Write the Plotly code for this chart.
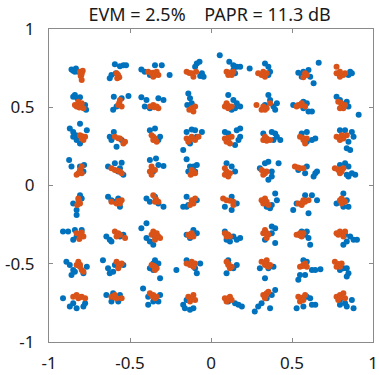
import plotly.graph_objects as go

# 64-QAM grid levels
X_LEVELS = [-0.817, -0.583, -0.350, -0.117, 0.117, 0.350, 0.583, 0.817]
Y_LEVELS = [0.727, 0.519, 0.311, 0.104, -0.104, -0.311, -0.519, -0.727]
OFFSET_UNIT = 0.0021  # offsets below are in units of 0.0021

TICK_VALS = [-1, -0.5, 0, 0.5, 1]
TICK_TEXT = ["-1", "-0.5", "0", "0.5", "1"]
TITLE = "EVM = 2.5%\u00a0\u00a0\u00a0\u00a0PAPR = 11.3 dB"

# received-symbol offsets per constellation point, row by row (top to bottom), left to right
BLUE = [
    # row 0
    "-21,7 -16,3 -8,10 -1,0 -11,0",
    "-5,23 10,17 20,20 28,20 -2,-5 -20,-20 -15,-10",
    "-38,7 2,20 22,20 45,-10 -13,-10 -28,0",
    "14,25 22,30 9,15 29,-5 34,-15 24,-13",
    "-30,50 -2,30 10,20 20,15 30,15 15,-5 10,5",
    "-53,10 -8,25 2,15 7,0 2,-10",
    "-21,-3 -6,0 9,5 39,27 24,-35 14,-15 -11,-15",
    "20,0 25,-5 15,-10",
    # row 1
    "-11,28 -4,18 4,21 -16,23 19,-2 22,-17",
    "-8,23 15,18 35,25 -10,-17 0,-7",
    "-38,21 -23,13 12,18 27,13 -28,-7 -13,-12",
    "-11,33 -6,18 -14,-2 -1,3",
    "-5,28 10,13 20,3 30,-7 5,-17 15,-12",
    "2,28 7,13 27,3 17,-7 -8,-2 22,-17",
    "-36,-2 -6,8 4,3 9,-22 19,-22 -6,-12",
    "-20,23 10,8 15,-7 45,-32 -10,13",
    # row 2
    "4,40 -26,25 -16,15 -8,5 24,20 -6,-10 4,-20 -16,0",
    "-8,15 -20,0 0,-30 15,-10 -15,-10",
    "-13,20 2,25 17,0 12,-10",
    "-16,15 -1,22 9,20 29,15 -26,-40 -6,-20 14,0",
    "-15,15 -5,10 20,20 30,25 25,-10 15,-25 30,0",
    "-13,10 12,15 22,10 27,0 37,-10 17,-10",
    "-11,10 4,15 19,-10 29,-5 4,-15",
    "-10,20 5,20 25,15 30,0 15,-15 10,-35 20,-40",
    # row 3
    "-28,28 -21,8 4,8 16,13 14,-7",
    "-25,8 -5,18 15,20 10,3 5,-7 20,-17",
    "-13,28 5,33 27,10 12,13 -3,-7",
    "-16,30 -6,8 14,13 9,-7 -11,-7 4,8",
    "-10,18 5,8 15,-7",
    "-23,3 -8,18 2,23 32,18 12,-7 12,-22 2,-32",
    "-21,-2 4,8 -1,-12 29,-12 34,-7 24,-22",
    "-10,13 5,18 15,8 25,-12 35,-17 10,-17 15,-22",
    # row 4
    "-16,-5 -6,-25 -6,-40 9,10 4,20",
    "-25,15 -15,5 5,10 10,-15 -5,0",
    "-23,10 -13,0 12,-5 27,-15 2,15",
    "-26,-15 -16,-15 -11,-10 -16,15 14,5",
    "5,15 20,-5 5,-25 -15,-15",
    "22,25 27,5 12,-10 -3,-15 7,-20",
    "-36,-25 -26,-5 -1,20 19,20 34,5 9,-35",
    "0,25 10,5 15,-15 0,-15 -20,-5",
    # row 5
    "-46,8 -31,8 -11,13 -6,-7 -16,-17 9,13",
    "-30,-7 -20,-17 -15,-22 10,-7 20,-2",
    "-38,18 -23,33 -23,-12 -13,-22 -3,-32 2,-7",
    "-16,-2 -6,-12 14,3 4,13",
    "-15,8 -10,-17 0,-22 20,-17 30,-12 10,-7",
    "12,23 22,18 -8,-17 22,-27 12,3",
    "-11,8 4,8 9,-12 14,-32 -1,-2",
    "5,-2 20,-7 30,-17 40,-17 0,-32 10,-22",
    # row 6
    "-36,15 -26,5 -16,-10 -21,-25 -11,-15 24,0 14,-20",
    "-40,20 -25,-5 -20,-20 -10,-15 -5,5 20,5",
    "-13,-5 -3,10 2,20 12,10 17,-35 -3,-10",
    "-46,-10 -16,20 9,-5 14,-20 24,10",
    "-5,20 20,5 -10,-20 10,-5",
    "-23,-5 -8,-35 2,-5 17,0 -3,10",
    "-6,20 4,15 19,-10 29,-10 44,-8 -1,-25 -21,-40 -16,-25",
    "-10,-10 10,-5 15,-20 10,-30 0,-5",
    # row 7
    "-46,3 -26,-22 -6,-27 -16,-12 19,-12 14,-22",
    "-30,13 -15,-7 -10,18 10,13 5,-7",
    "-33,33 -18,8 -18,-17 -3,-7 12,-7 17,13",
    "-26,-17 -21,-27 -6,-32 4,-27 -16,-2",
    "-5,-7 15,-12 25,-17 35,-22",
    "22,28 12,13 -3,3 7,-27 -28,-22 -38,-37 -18,-12",
    "4,8 14,3 -6,-22 -26,-27 29,-17 19,-17",
    "-10,-2 5,-12 25,-2 10,-22 30,-27 -10,-17",
]

ORANGE = [
    # row 0
    "4,0 12,3 9,-5 6,-13 9,-25 8,-10",
    "0,-5 5,-13 8,-17 2,-20 4,-9",
    "-18,0 -8,-5 2,-10 7,0 -3,-15 12,-10 -3,-3",
    "-16,0 -1,-5 4,-15 12,0 -8,-4",
    "-10,0 0,-5 5,-10 -5,-10 10,0 -3,-2",
    "-28,-5 -18,-10 -8,-15 -3,-5 -13,0 -13,-8",
    "-1,-5 -6,-17 4,-10",
    "-20,15 -20,-5 -10,-15 0,-10 5,-5 -10,0 -12,-8",
    # row 1
    "-1,8 4,-2 -6,-7 14,-12 9,3 -11,-2 2,-10",
    "10,13 5,-2 15,-7 8,5",
    "-13,-7 -3,-2 7,-7 12,-12 0,-9",
    "-1,-12 4,-22 -8,-17 9,-7",
    "-10,3 -5,-12 5,-7 -15,-7 -6,-4",
    "-33,-2 -13,-7 -3,-12 -8,-17 -18,-17 7,3 -10,-10",
    "-21,-2 -11,3 -1,-7 -26,-7 -14,-4",
    "-15,8 -5,-2 0,-12 5,-2 -10,-12 -6,4",
    # row 2
    "4,5 9,-5 14,-10 19,0 10,2",
    "-5,0 10,-5 25,-15 20,-20 5,-4",
    "-8,5 2,-5 7,-15 -3,-10 -3,0 3,-8",
    "-16,-5 -1,0 9,-10 19,0 -11,-15 2,-6",
    "-15,-5 -5,-10 0,-20 5,0 -10,-15 -5,-3",
    "-8,0 -3,-5 7,-10 -13,-10 -3,-12",
    "-16,0 -6,-10 -1,-20 4,-5 -6,-4",
    "-20,0 -10,-10 0,-5 10,5 -5,5 -12,-4",
    # row 3
    "9,8 4,-2 -1,-12 -6,-17 9,-12 4,-6",
    "-15,3 -5,-2 10,-7 15,-12 2,-5",
    "-8,8 -13,-7 -8,-17 2,-2 -6,0",
    "-1,-2 4,-7 -4,-17 9,-12 2,-12",
    "-15,3 -10,-7 0,-12 -5,-22 -15,-17 -8,-12",
    "-18,-2 -8,-12 -3,-7 -13,-17 -12,-7",
    "-31,8 -16,3 -6,3 -22,5",
    "-25,3 -15,-2 -5,-7 0,3 -10,-12 -10,0",
    # row 4
    "-1,10 2,0 -4,-10 4,-5 0,5",
    "-15,0 0,-5 15,5 10,-5 5,2",
    "-3,20 2,0 12,0 5,8",
    "-1,5 4,-5 9,10 -6,-10 2,2",
    "-20,10 -10,5 10,0 10,-10 0,3",
    "-18,5 -8,10 -3,0 2,-10 -13,-5 -8,2",
    "-21,-5 -11,-10 -1,0 9,5 -6,5 -8,-2",
    "-10,5 -5,-5 5,0 -5,10 0,3",
    # row 5
    "-6,3 4,-2 14,-7 2,-15 9,5 8,-6",
    "-5,8 5,3 10,-2 0,-7 25,-12 4,0",
    "-3,8 7,3 12,-7 2,-17 17,-12 -8,-2 4,-5",
    "-11,-2 -1,3 4,-7 -6,-7 -4,0",
    "-15,3 -5,-2 0,-7 -10,-7 -8,0",
    "-8,13 -13,3 2,-2 -3,-12 -4,4",
    "-26,-2 -16,3 -11,-7 -6,3 -16,-4",
    "-20,3 -10,8 5,8 0,-7 -15,-2 -6,2",
    # row 6
    "-1,15 4,0 9,-10 14,-15 -6,5 4,6",
    "0,15 10,5 15,10 5,-5 6,8",
    "-8,5 2,0 7,-5 2,-10 -2,3",
    "-16,10 -6,5 4,0 -1,15 9,10 2,8",
    "-10,15 -5,5 0,-5 5,0 -4,8",
    "-18,15 -8,5 2,0 -3,20 7,5 -6,10",
    "-16,0 -6,5 4,0 -1,10 -8,2",
    "-25,15 -15,5 -5,10 -20,0 -10,0 -14,8",
    # row 7
    "-16,8 -1,3 9,8 19,3 -6,13 4,6",
    "-15,8 0,3 -5,13 15,3 -6,6",
    "-13,18 -3,13 7,8 2,3 -6,10",
    "-11,8 -1,3 4,13 -6,-7 9,-2 -3,2",
    "-15,3 0,8 5,-2 -10,-7 -6,2",
    "-13,13 -8,3 -3,18 2,23 -6,10",
    "-21,8 -11,3 -6,-2 -16,-7 -1,13 -10,5",
    "-20,8 -10,13 0,18 -15,-2 5,3 -8,6",
]


def expand(offsets):
    xs, ys = [], []
    for k, s in enumerate(offsets):
        cx = X_LEVELS[k % 8]
        cy = Y_LEVELS[k // 8]
        for pair in s.split():
            dx, dy = pair.split(",")
            xs.append(cx + float(dx) * OFFSET_UNIT)
            ys.append(cy + float(dy) * OFFSET_UNIT)
    return xs, ys


bx, by = expand(BLUE)
ox, oy = expand(ORANGE)

fig = go.Figure()
fig.add_trace(go.Scatter(x=bx, y=by, mode="markers",
                         marker=dict(color="#0072BD", size=6, line=dict(width=0)),
                         showlegend=False))
fig.add_trace(go.Scatter(x=ox, y=oy, mode="markers",
                         marker=dict(color="#D95319", size=6, line=dict(width=0)),
                         showlegend=False))

axis_common = dict(range=[-1, 1], showgrid=False, zeroline=False, automargin=False,
                   showline=True, linecolor="#8a8a8a", linewidth=1.3, mirror="ticks",
                   ticks="inside", ticklen=4, tickcolor="#8a8a8a",
                   tickvals=TICK_VALS, ticktext=TICK_TEXT,
                   tickfont=dict(family="Noto Sans", size=17, color="#1a1a1a"))

fig.update_layout(
    width=379, height=375,
    margin=dict(l=49, r=6, t=29, b=33, autoexpand=False),
    paper_bgcolor="white", plot_bgcolor="white",
    title=dict(text=TITLE, x=0.553, xanchor="center",
               y=0.962, yanchor="middle",
               font=dict(family="Noto Sans", size=18, color="#1a1a1a")),
    xaxis=dict(**axis_common, ticklabelstandoff=5),
    yaxis=dict(**axis_common, ticklabelstandoff=10),
)

fig.write_html("out.html", config={"displayModeBar": False},
               post_script="document.body.style.margin='0';document.body.style.overflow='hidden';")
